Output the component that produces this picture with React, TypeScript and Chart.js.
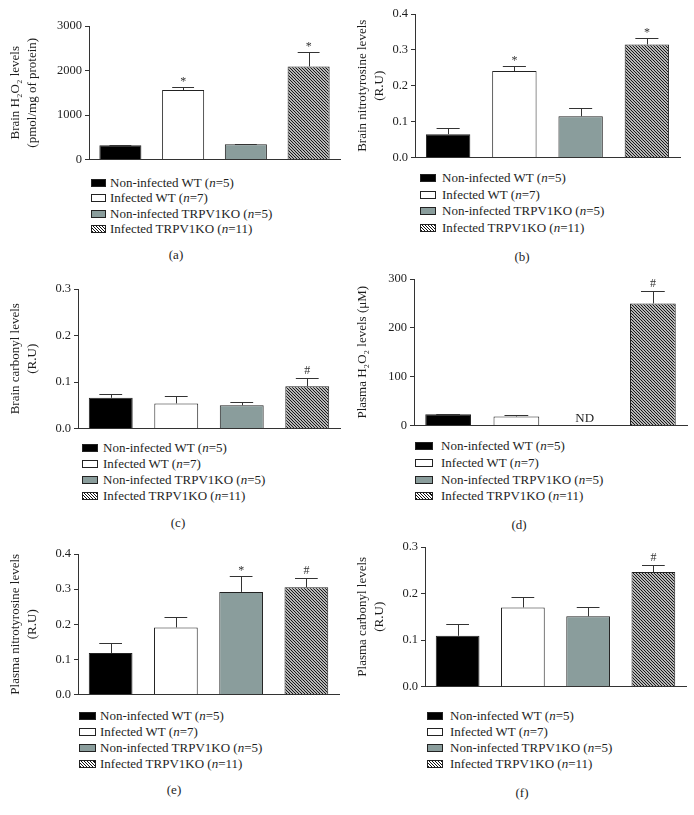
import React, { useEffect, useRef } from 'react';
import { Chart, registerables } from 'chart.js';

Chart.register(...registerables);

const FONT = "'Liberation Serif', 'Times New Roman', Times, serif";
const TEXT = '#1e1e1e';
const AXIS = '#333333';
const GREY = '#8a9d9c';

// ---------- shared data ----------
const CATEGORIES = ['Non-infected WT', 'Infected WT', 'Non-infected TRPV1KO', 'Infected TRPV1KO'];
const GROUP_N = ['5', '7', '5', '11'];

// (a) Brain H2O2
const A_VALUES = [320, 1560, 340, 2090];
const A_ERRORS = [12, 80, 10, 330];
const A_MARKS = ['', '*', '', '*'];
const A_TICKS = [0, 1000, 2000, 3000];

// (b) Brain nitrotyrosine
const B_VALUES = [0.065, 0.241, 0.115, 0.315];
const B_ERRORS = [0.018, 0.015, 0.024, 0.017];
const B_MARKS = ['', '*', '', '*'];
const B_TICKS = [0, 0.1, 0.2, 0.3, 0.4];

// (c) Brain carbonyl
const C_VALUES = [0.066, 0.054, 0.05, 0.091];
const C_ERRORS = [0.009, 0.015, 0.006, 0.018];
const C_MARKS = ['', '', '', '#'];
const C_TICKS = [0, 0.1, 0.2, 0.3];

// (d) Plasma H2O2 (third group not detected)
const D_VALUES: (number | null)[] = [23, 18.5, null, 250];
const D_ERRORS = [1.5, 3, 0, 25];
const D_MARKS = ['', '', '', '#'];
const D_TICKS = [0, 100, 200, 300];

// (e) Plasma nitrotyrosine
const E_VALUES = [0.118, 0.191, 0.292, 0.305];
const E_ERRORS = [0.028, 0.029, 0.046, 0.027];
const E_MARKS = ['', '', '*', '#'];
const E_TICKS = [0, 0.1, 0.2, 0.3, 0.4];

// (f) Plasma carbonyl
const F_VALUES = [0.109, 0.17, 0.151, 0.246];
const F_ERRORS = [0.026, 0.023, 0.019, 0.016];
const F_MARKS = ['', '', '', '#'];
const F_TICKS = [0, 0.1, 0.2, 0.3];

type Spec = {
  caption: string;
  title: string | string[];
  values: (number | null)[];
  errors: number[];
  marks: string[];
  ticks: number[];
  decimals: number;
  nd?: boolean;
  left: number; top: number;
  plotLeft: number; plotRight: number; plotTop: number; plotBottom: number;
  legendX: number; legendTextX: number; legendY: number; legendStep: number; swatchW: number;
  capX: number; capY: number;
};

const PANELS: Spec[] = [
  {
    caption: '(a)', title: ['Brain H\u2082O\u2082 levels', '(pmol/mg of protein)'],
    values: A_VALUES, errors: A_ERRORS, marks: A_MARKS, ticks: A_TICKS, decimals: 0,
    left: 0, top: 0, plotLeft: 89, plotRight: 340, plotTop: 26, plotBottom: 160,
    legendX: 91, legendTextX: 110, legendY: 183, legendStep: 15.4, swatchW: 15,
    capX: 176, capY: 255,
  },
  {
    caption: '(b)', title: ['Brain nitrotyrosine levels', '(R.U)'],
    values: B_VALUES, errors: B_ERRORS, marks: B_MARKS, ticks: B_TICKS, decimals: 1,
    left: 347, top: 0, plotLeft: 415, plotRight: 680, plotTop: 14, plotBottom: 158,
    legendX: 420, legendTextX: 442, legendY: 178, legendStep: 16.7, swatchW: 16,
    capX: 522, capY: 257,
  },
  {
    caption: '(c)', title: ['Brain carbonyl levels', '(R.U)'],
    values: C_VALUES, errors: C_ERRORS, marks: C_MARKS, ticks: C_TICKS, decimals: 1,
    left: 0, top: 260, plotLeft: 78, plotRight: 340, plotTop: 289, plotBottom: 429,
    legendX: 82, legendTextX: 103, legendY: 448, legendStep: 15.9, swatchW: 16,
    capX: 178, capY: 523,
  },
  {
    caption: '(d)', title: 'Plasma H\u2082O\u2082 levels (\u03BCM)',
    values: D_VALUES, errors: D_ERRORS, marks: D_MARKS, ticks: D_TICKS, decimals: 0, nd: true,
    left: 347, top: 260, plotLeft: 414, plotRight: 687, plotTop: 279, plotBottom: 426,
    legendX: 415, legendTextX: 441, legendY: 446, legendStep: 16.8, swatchW: 18,
    capX: 519, capY: 525,
  },
  {
    caption: '(e)', title: ['Plasma nitrotyrosine levels', '(R.U)'],
    values: E_VALUES, errors: E_ERRORS, marks: E_MARKS, ticks: E_TICKS, decimals: 1,
    left: 0, top: 530, plotLeft: 78, plotRight: 339, plotTop: 554, plotBottom: 695,
    legendX: 79, legendTextX: 100, legendY: 716, legendStep: 15.9, swatchW: 17,
    capX: 174, capY: 790,
  },
  {
    caption: '(f)', title: ['Plasma carbonyl levels', '(R.U)'],
    values: F_VALUES, errors: F_ERRORS, marks: F_MARKS, ticks: F_TICKS, decimals: 1,
    left: 347, top: 530, plotLeft: 425, plotRight: 686, plotTop: 547, plotBottom: 687,
    legendX: 427, legendTextX: 450, legendY: 716, legendStep: 15.9, swatchW: 16,
    capX: 522, capY: 793,
  },
];

const PANEL_W = 347;
const BOTTOM_PAD = 10;
const TITLE_PAD = 7;

function makeHatch(): CanvasPattern | string {
  const s = 3;
  const t = document.createElement('canvas');
  t.width = s; t.height = s;
  const c = t.getContext('2d');
  if (!c) return '#666';
  c.fillStyle = '#ffffff';
  c.fillRect(0, 0, s, s);
  c.strokeStyle = '#111111';
  c.lineWidth = 1.15;
  for (const o of [-s, 0, s]) {
    c.beginPath();
    c.moveTo(o - 1, -1);
    c.lineTo(o + s + 1, s + 1);
    c.stroke();
  }
  const p = c.createPattern(t, 'repeat');
  return p || '#666';
}

function Panel({ spec }: { spec: Spec }) {
  const ref = useRef<HTMLCanvasElement>(null);
  const cw = PANEL_W;
  const ch = spec.plotBottom - spec.top + BOTTOM_PAD;

  useEffect(() => {
    const cv = ref.current;
    if (!cv) return;
    const hatch = makeHatch();
    const overlay = {
      id: 'errOverlay',
      afterDatasetsDraw(chart: any) {
        const ctx = chart.ctx as CanvasRenderingContext2D;
        const ys = chart.scales.y;
        const xs = chart.scales.x;
        const meta = chart.getDatasetMeta(0);
        ctx.save();
        spec.values.forEach((v, i) => {
          const x = xs.getPixelForValue(i);
          if (v == null) {
            if (spec.nd) {
              ctx.fillStyle = TEXT;
              ctx.font = `13px ${FONT}`;
              ctx.textAlign = 'center';
              ctx.textBaseline = 'alphabetic';
              ctx.fillText('ND', x, ys.getPixelForValue(0) - 4);
            }
            return;
          }
          const bar = meta.data[i];
          const w = bar ? bar.width : 40;
          const by = ys.getPixelForValue(v);
          const top = Math.round(ys.getPixelForValue(v + spec.errors[i])) + 0.5;
          const lx = Math.round(x) + 0.5;
          ctx.strokeStyle = AXIS;
          ctx.lineWidth = 1;
          ctx.beginPath();
          ctx.moveTo(lx, by);
          ctx.lineTo(lx, top);
          ctx.moveTo(x - w * 0.26, top);
          ctx.lineTo(x + w * 0.26, top);
          ctx.stroke();
          const m = spec.marks[i];
          if (m) {
            ctx.fillStyle = '#333';
            ctx.font = `12px ${FONT}`;
            ctx.textAlign = 'center';
            ctx.textBaseline = 'alphabetic';
            const center = top - 9;
            ctx.fillText(m, x, m === '*' ? center + 6.5 : center + 4);
          }
        });
        ctx.restore();
      },
    };

    const chart = new Chart(cv, {
      type: 'bar',
      data: {
        labels: CATEGORIES,
        datasets: [
          {
            data: spec.values as any,
            backgroundColor: ['#000000', '#ffffff', GREY, hatch as any],
            borderColor: '#222222',
            borderWidth: 1,
            barPercentage: 0.67,
            categoryPercentage: 1,
          },
        ],
      },
      options: {
        responsive: false,
        animation: false,
        devicePixelRatio: 1,
        layout: {
          padding: {
            left: TITLE_PAD,
            right: spec.left + PANEL_W - spec.plotRight,
            top: spec.plotTop - spec.top,
            bottom: BOTTOM_PAD,
          },
        },
        plugins: {
          legend: { display: false },
          tooltip: { enabled: false },
        },
        scales: {
          x: {
            type: 'category',
            ticks: { display: false },
            grid: { display: false },
            border: { display: true, color: AXIS, width: 1 },
            afterFit: (s: any) => { s.height = 0; },
          },
          y: {
            type: 'linear',
            min: spec.ticks[0],
            max: spec.ticks[spec.ticks.length - 1],
            afterBuildTicks: (s: any) => { s.ticks = spec.ticks.map((value) => ({ value })); },
            afterFit: (s: any) => { s.width = spec.plotLeft - spec.left - TITLE_PAD; },
            ticks: {
              color: TEXT,
              padding: 3,
              font: { family: FONT, size: 12.5 },
              callback: (val: any) => Number(val).toFixed(spec.decimals),
            },
            grid: {
              display: true,
              drawOnChartArea: false,
              drawTicks: true,
              tickLength: 4,
              color: AXIS,
            },
            border: { display: true, color: AXIS, width: 1 },
            title: {
              display: true,
              text: spec.title as any,
              color: TEXT,
              font: { family: FONT, size: 13, lineHeight: 1.3 },
              padding: { top: 0, bottom: 0 },
            },
          },
        },
      },
      plugins: [overlay],
    });
    return () => chart.destroy();
  }, []);

  const swatchStyle = (i: number): React.CSSProperties => {
    const base: React.CSSProperties = {
      width: spec.swatchW, height: 8, boxSizing: 'border-box',
      border: '1px solid #222', flex: 'none',
    };
    if (i === 0) return { ...base, background: '#000' };
    if (i === 1) return { ...base, background: '#fff' };
    if (i === 2) return { ...base, background: GREY };
    return {
      ...base,
      background: 'repeating-linear-gradient(45deg, #111 0px, #111 1px, #fff 1px, #fff 2.2px)',
    };
  };

  return (
    <>
      <canvas
        ref={ref}
        width={cw}
        height={ch}
        style={{ position: 'absolute', left: spec.left, top: spec.top, width: cw, height: ch }}
      />
      {CATEGORIES.map((c, i) => (
        <div
          key={c}
          style={{
            position: 'absolute',
            left: spec.legendX,
            top: spec.legendY + i * spec.legendStep - 8,
            height: 16,
            display: 'flex',
            alignItems: 'center',
            whiteSpace: 'nowrap',
            fontFamily: FONT,
            fontSize: 13,
            color: TEXT,
          }}
        >
          <div style={swatchStyle(i)} />
          <span style={{ marginLeft: spec.legendTextX - spec.legendX - spec.swatchW, lineHeight: '16px' }}>
            {c} (<i>n</i>={GROUP_N[i]})
          </span>
        </div>
      ))}
      <div
        style={{
          position: 'absolute',
          left: spec.capX - 20,
          top: spec.capY - 8,
          width: 40,
          height: 16,
          lineHeight: '16px',
          textAlign: 'center',
          fontFamily: FONT,
          fontSize: 13,
          color: TEXT,
        }}
      >
        {spec.caption}
      </div>
    </>
  );
}

export default function App() {
  return (
    <div
      style={{
        position: 'absolute',
        left: 0,
        top: 0,
        width: 694,
        height: 815,
        background: '#ffffff',
        overflow: 'hidden',
      }}
    >
      {PANELS.map((p) => (
        <Panel key={p.caption} spec={p} />
      ))}
    </div>
  );
}
